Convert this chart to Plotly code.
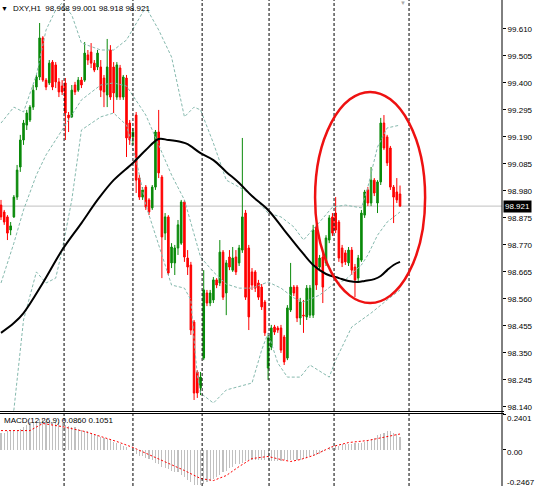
import plotly.graph_objects as go

# ---------------- price data (DXY, H1) ----------------
opens = [98.925, 98.898, 98.879, 98.828, 98.879, 98.956, 99.073, 99.178, 99.236, 99.256,
         99.306, 99.384, 99.423, 99.575, 99.411, 99.400, 99.481, 99.470, 99.404, 99.388,
         99.400, 99.275, 99.268, 99.392, 99.372, 99.411, 99.411, 99.509, 99.520, 99.477,
         99.462, 99.462, 99.419, 99.353, 99.528, 99.462, 99.345, 99.458, 99.345,
         99.419, 99.244, 99.190, 99.275, 99.030, 98.956, 98.995, 98.945, 98.914, 98.995,
         99.209, 99.034, 98.816, 98.879, 98.700, 98.700, 98.758, 98.777, 98.937, 98.719,
         98.692, 98.470, 98.276, 98.214, 98.330, 98.583, 98.544, 98.556, 98.634, 98.622,
         98.742, 98.583, 98.723, 98.672, 98.723, 98.700, 98.750, 98.894, 98.758, 98.665,
         98.665, 98.622, 98.606, 98.548, 98.291, 98.373, 98.451, 98.447, 98.447, 98.412,
         98.330, 98.517, 98.606, 98.606, 98.486, 98.497, 98.490, 98.497, 98.497, 98.840,
         98.684, 98.723, 98.700, 98.789, 98.879, 98.894, 98.859, 98.758, 98.739, 98.700,
         98.750, 98.684, 98.641, 98.711, 98.886, 98.984, 98.933, 99.022, 98.933, 99.015,
         99.244, 99.190, 99.147, 98.995, 98.976, 98.968]
highs = [98.945, 98.906, 98.886, 98.859, 98.964, 99.081, 99.198, 99.256, 99.295, 99.314,
         99.392, 99.431, 99.633, 99.582, 99.419, 99.489, 99.489, 99.481, 99.419, 99.411,
         99.419, 99.287, 99.392, 99.404, 99.423, 99.423, 99.559, 99.528, 99.555, 99.489,
         99.528, 99.489, 99.431, 99.571, 99.547, 99.481, 99.481, 99.470, 99.431,
         99.431, 99.256, 99.225, 99.287, 99.042, 98.995, 99.003, 98.952, 99.003, 99.217,
         99.295, 99.042, 98.894, 98.886, 98.777, 98.770, 98.867, 98.945, 98.945, 98.750,
         98.704, 98.478, 98.283, 98.276, 98.672, 98.595, 98.595, 98.645, 98.641, 98.789,
         98.750, 98.711, 98.750, 98.762, 98.750, 98.770, 99.186, 98.906, 98.770, 98.680,
         98.672, 98.634, 98.618, 98.556, 98.420, 98.459, 98.459, 98.455, 98.459, 98.420,
         98.536, 98.700, 98.614, 98.614, 98.564, 98.556, 98.614, 98.614, 98.848, 98.848,
         98.731, 98.739, 98.808, 98.886, 98.894, 98.956, 98.867, 98.770, 98.750, 98.762,
         98.762, 98.696, 98.731, 98.906, 98.984, 98.995, 99.073, 99.030, 99.022, 99.264,
         99.275, 99.198, 99.155, 99.003, 99.030, 99.001]
lows = [98.867, 98.848, 98.789, 98.808, 98.875, 98.945, 99.054, 99.159, 99.217, 99.248,
        99.295, 99.372, 99.411, 99.404, 99.372, 99.392, 99.372, 99.380, 99.345, 99.353,
        99.178, 99.209, 99.264, 99.353, 99.365, 99.380, 99.404, 99.470, 99.458, 99.442,
        99.450, 99.345, 99.306, 99.306, 99.334, 99.283, 99.334, 99.334, 99.334,
        99.112, 99.159, 99.159, 98.972, 98.945, 98.945, 98.906, 98.886, 98.906, 98.984,
        99.030, 98.641, 98.789, 98.653, 98.680, 98.653, 98.731, 98.770, 98.704, 98.653,
        98.420, 98.167, 98.175, 98.186, 98.322, 98.532, 98.532, 98.544, 98.602, 98.610,
        98.556, 98.497, 98.672, 98.665, 98.653, 98.688, 98.739, 98.556, 98.439, 98.595,
        98.587, 98.556, 98.517, 98.416, 98.245, 98.361, 98.420, 98.428, 98.350, 98.303,
        98.322, 98.509, 98.571, 98.470, 98.459, 98.428, 98.478, 98.486, 98.486, 98.595,
        98.672, 98.544, 98.688, 98.777, 98.805, 98.816, 98.704, 98.684, 98.692, 98.688,
        98.653, 98.567, 98.626, 98.704, 98.875, 98.921, 98.921, 98.960, 98.894, 99.003,
        99.139, 99.077, 98.984, 98.855, 98.933, 98.918]
closes = [98.879, 98.859, 98.816, 98.844, 98.956, 99.061, 99.178, 99.244, 99.283, 99.306,
          99.372, 99.423, 99.575, 99.411, 99.384, 99.477, 99.384, 99.404, 99.365, 99.365,
          99.283, 99.264, 99.372, 99.365, 99.411, 99.392, 99.516, 99.489, 99.477, 99.450,
          99.516, 99.372, 99.365, 99.462, 99.345, 99.361, 99.470, 99.345, 99.423,
          99.186, 99.178, 99.209, 99.022, 98.956, 98.984, 98.917, 98.898, 98.995, 99.209,
          99.050, 98.801, 98.879, 98.661, 98.762, 98.758, 98.848, 98.937, 98.723, 98.684,
          98.439, 98.194, 98.194, 98.256, 98.595, 98.544, 98.583, 98.634, 98.614, 98.742,
          98.567, 98.700, 98.684, 98.719, 98.665, 98.758, 98.879, 98.567, 98.490, 98.614,
          98.602, 98.567, 98.529, 98.428, 98.408, 98.447, 98.431, 98.439, 98.361, 98.315,
          98.525, 98.606, 98.583, 98.486, 98.548, 98.494, 98.602, 98.602, 98.828, 98.614,
          98.719, 98.606, 98.797, 98.875, 98.816, 98.828, 98.719, 98.700, 98.704, 98.750,
          98.672, 98.634, 98.719, 98.894, 98.976, 98.933, 99.022, 98.972, 99.015, 99.244,
          99.147, 99.089, 98.995, 98.956, 98.945, 98.921]
bars = list(range(len(closes)))

# Bollinger bands (sampled at bar numbers)
band_bars = [0, 4, 7, 11, 14, 17, 19, 22, 25, 31, 35, 39, 45, 49, 53, 57, 60, 62, 66, 70,
             74, 78, 83, 87, 91, 94, 99, 103, 107, 112, 114, 117, 120, 124]
bb_upper = [99.244, 99.306, 99.287, 99.431, 99.606, 99.684, 99.711, 99.664, 99.555, 99.528,
            99.528, 99.567, 99.695, 99.606, 99.501, 99.268, 99.306, 99.295, 99.166, 99.022,
            98.995, 98.964, 98.894, 98.879, 98.840, 98.789, 98.859, 98.917, 98.925, 98.914,
            98.995, 99.151, 99.225, 99.236]
bb_middle = [98.622, 98.777, 98.906, 99.042, 99.120, 99.178, 99.217, 99.275, 99.334, 99.392,
             99.400, 99.388, 99.275, 99.159, 99.042, 98.945, 98.808, 98.723, 98.665, 98.618,
             98.602, 98.602, 98.626, 98.602, 98.564, 98.548, 98.575, 98.614, 98.634, 98.692,
             98.731, 98.808, 98.859, 98.898]
lower_bars = [0, 4, 7, 11, 14, 17, 19, 22, 25, 31, 35, 39, 42, 45, 49, 53, 57, 59, 60, 61,
              62, 66, 70, 74, 78, 81, 83, 86, 89, 93, 96, 102, 104, 109, 115, 120, 124]
bb_lower = [97.999, 98.128, 98.478, 98.665, 98.622, 98.641, 98.750, 98.945, 99.217, 99.268,
            99.283, 99.236, 99.100, 98.925, 98.770, 98.614, 98.602, 98.556, 98.400, 98.264,
            98.194, 98.155, 98.206, 98.221, 98.233, 98.361, 98.428, 98.311, 98.256, 98.256,
            98.303, 98.256, 98.322, 98.451, 98.505, 98.556, 98.595]

# Moving average (black)
ma_bars = [0, 4, 7, 13, 19, 25, 30, 35, 41, 45, 49, 52, 56, 58, 62, 66, 70, 74, 78, 83,
           88, 93, 97, 101, 105, 108, 111, 113, 116, 118, 120, 122, 124]
ma_values = [98.428, 98.466, 98.505, 98.622, 98.750, 98.855, 98.945, 99.022, 99.089, 99.139,
             99.182, 99.178, 99.170, 99.162, 99.127, 99.100, 99.054, 99.011, 98.960, 98.906,
             98.828, 98.750, 98.692, 98.657, 98.641, 98.630, 98.626, 98.630, 98.637, 98.649,
             98.672, 98.692, 98.704]

# MACD(12,26,9)
macd_hist = [0.115, 0.115, 0.122, 0.122, 0.128, 0.135, 0.142, 0.155, 0.169, 0.183,
             0.189, 0.196, 0.203, 0.203, 0.196, 0.196, 0.189, 0.189, 0.183, 0.176,
             0.169, 0.162, 0.155, 0.149, 0.142, 0.135, 0.128, 0.122, 0.115, 0.101,
             0.095, 0.088, 0.081, 0.074, 0.061, 0.054, 0.047, 0.034, 0.027, 0.014,
             0.000, -0.007, -0.027, -0.041, -0.047, -0.054, -0.061, -0.074, -0.088, -0.101,
             -0.115, -0.128, -0.135, -0.142, -0.149, -0.155, -0.169, -0.183, -0.203, -0.223,
             -0.237, -0.237, -0.237, -0.230, -0.223, -0.210, -0.196, -0.183, -0.169, -0.155,
             -0.142, -0.128, -0.115, -0.101, -0.095, -0.088, -0.081, -0.074, -0.074, -0.074,
             -0.074, -0.074, -0.074, -0.074, -0.081, -0.081, -0.081, -0.081, -0.074, -0.074,
             -0.074, -0.074, -0.068, -0.068, -0.061, -0.054, -0.047, -0.041, -0.034, -0.027,
             -0.014, 0.000, 0.014, 0.020, 0.027, 0.027, 0.034, 0.034, 0.034, 0.034,
             0.041, 0.041, 0.047, 0.054, 0.061, 0.068, 0.081, 0.095, 0.108, 0.115,
             0.122, 0.122, 0.115, 0.108, 0.086]
signal_bars = [0, 9, 13, 19, 26, 31, 36, 41, 46, 52, 57, 62, 66, 70, 74, 78, 83, 87, 90, 93,
               97, 103, 108, 114, 119, 124]
macd_signal = [0.128, 0.128, 0.176, 0.155, 0.122, 0.088, 0.054, 0.014, -0.034, -0.095,
               -0.142, -0.196, -0.210, -0.176, -0.115, -0.061, -0.047, -0.068, -0.081, -0.068,
               -0.041, 0.020, 0.047, 0.061, 0.081, 0.1051]

price_ticks = [99.610, 99.505, 99.400, 99.295, 99.190, 99.085, 98.980, 98.875, 98.770,
               98.665, 98.560, 98.455, 98.350, 98.245, 98.140]
day_breaks = [19.6, 41.0, 62.5, 83.3, 103.5, 126.8]
last_price = 98.921

# ---------------- figure ----------------
W, H = 540, 486
FONT = "Liberation Sans, Arial, sans-serif"
main_dom = [1 - 411 / H, 1]
macd_dom = [0, (H - 414) / H]

fig = go.Figure()

band_line = dict(color="#86b9ae", width=1, dash="3px,2px")
fig.add_trace(go.Scatter(x=band_bars, y=bb_upper, mode="lines", line=band_line,
                         hoverinfo="skip", showlegend=False))
fig.add_trace(go.Scatter(x=band_bars, y=bb_middle, mode="lines", line=band_line,
                         hoverinfo="skip", showlegend=False))
fig.add_trace(go.Scatter(x=lower_bars, y=bb_lower, mode="lines", line=band_line,
                         hoverinfo="skip", showlegend=False))

fig.add_trace(go.Candlestick(
    x=bars, open=opens, high=highs, low=lows, close=closes,
    increasing=dict(line=dict(color="#0a8a0a", width=1), fillcolor="#0a8a0a"),
    decreasing=dict(line=dict(color="#ff0000", width=1), fillcolor="#ff0000"),
    whiskerwidth=0, hoverinfo="skip", showlegend=False))

fig.add_trace(go.Scatter(x=ma_bars, y=ma_values, mode="lines",
                         line=dict(color="black", width=2, shape="spline"),
                         hoverinfo="skip", showlegend=False))

fig.add_trace(go.Bar(x=bars, y=macd_hist, width=0.35, marker=dict(color="#c0c0c0", line=dict(width=0)),
                     xaxis="x2", yaxis="y2", hoverinfo="skip", showlegend=False))
fig.add_trace(go.Scatter(x=signal_bars, y=macd_signal, mode="lines",
                         line=dict(color="#ff0000", width=1, dash="2px,2px"),
                         xaxis="x2", yaxis="y2", hoverinfo="skip", showlegend=False))

xr = [-1 / 3.218, 501 / 3.218]
shapes = []
for d in day_breaks:
    shapes.append(dict(type="line", xref="x", yref="paper", x0=d, x1=d, y0=0, y1=1,
                       line=dict(color="black", width=1, dash="3px,2px"), layer="above"))
shapes.append(dict(type="line", xref="paper", yref="y", x0=0, x1=1, y0=last_price, y1=last_price,
                   line=dict(color="#c0c0c0", width=1), layer="below"))
for py in (411.5, 413.5):
    shapes.append(dict(type="line", xref="paper", yref="paper", x0=0, x1=1.004,
                       y0=1 - py / H, y1=1 - py / H, line=dict(color="black", width=1)))
shapes.append(dict(type="line", xref="paper", yref="paper", x0=1, x1=1, y0=0, y1=1,
                   line=dict(color="black", width=1)))
shapes.append(dict(type="circle", xref="x", yref="y", x0=97.6, x1=131.8, y0=98.544, y1=99.365,
                   line=dict(color="#ee1111", width=2.5)))

annotations = [
    dict(text="▼", xref="paper", yref="paper", x=4 / 502, y=1 - 8 / H, showarrow=False,
         xanchor="center", yanchor="middle", font=dict(size=7, color="black", family=FONT)),
    dict(text="DXY,H1  98.968 99.001 98.918 98.921", xref="paper", yref="paper",
         x=11 / 502, y=1 - 8 / H, showarrow=False, xanchor="left", yanchor="middle",
         font=dict(size=8, color="black", family=FONT)),
    dict(text="MACD(12,26,9) 0.0860 0.1051", xref="paper", yref="paper",
         x=2 / 502, y=1 - 420 / H, showarrow=False, xanchor="left", yanchor="middle",
         font=dict(size=8, color="black", family=FONT)),
    dict(text="▼", xref="paper", yref="paper", x=403 / 502, y=1 - 3 / H, showarrow=False,
         xanchor="center", yanchor="middle", font=dict(size=6, color="#aaaaaa", family=FONT)),
    dict(text="98.921", xref="paper", yref="y", x=1, y=last_price, showarrow=False,
         xanchor="left", yanchor="middle", xshift=1, bgcolor="black", borderpad=1,
         font=dict(size=8, color="white", family=FONT)),
]
for txt, py in (("0.2401", 418), ("0.00", 452), ("-0.2467", 482)):
    annotations.append(dict(text=txt, xref="paper", yref="paper", x=1, y=1 - py / H,
                            showarrow=False, xanchor="left", yanchor="middle", xshift=3,
                            font=dict(size=8, color="black", family=FONT)))

fig.update_layout(
    width=W, height=H, autosize=False,
    margin=dict(l=0, r=38, t=0, b=0, pad=0),
    paper_bgcolor="white", plot_bgcolor="white",
    showlegend=False, bargap=0, hovermode=False,
    shapes=shapes, annotations=annotations,
    xaxis=dict(domain=[0, 1], range=xr, anchor="y", showticklabels=False, showgrid=False,
               zeroline=False, ticks="", rangeslider=dict(visible=False), fixedrange=True),
    xaxis2=dict(domain=[0, 1], range=xr, anchor="y2", matches="x", showticklabels=False,
                showgrid=False, zeroline=False, ticks=""),
    yaxis=dict(domain=main_dom, range=[99.7225 - 411 * 0.0038889, 99.7225], side="right",
               anchor="x", tickvals=price_ticks, ticktext=["%.3f" % v for v in price_ticks],
               ticks="outside", ticklen=3, tickcolor="black", showgrid=False, zeroline=False,
               showline=False, tickfont=dict(size=8, color="black", family=FONT)),
    yaxis2=dict(domain=macd_dom, range=[-0.2467, 0.2401], side="right", anchor="x2",
                tickvals=[0.2401, 0, -0.2467], showticklabels=False, ticks="outside",
                ticklen=3, tickcolor="black", showgrid=False, zeroline=False, showline=False),
)

fig.write_html("out.html", config={"displayModeBar": False, "staticPlot": True},
               post_script="document.body.style.margin='0';document.body.style.overflow='hidden';")
